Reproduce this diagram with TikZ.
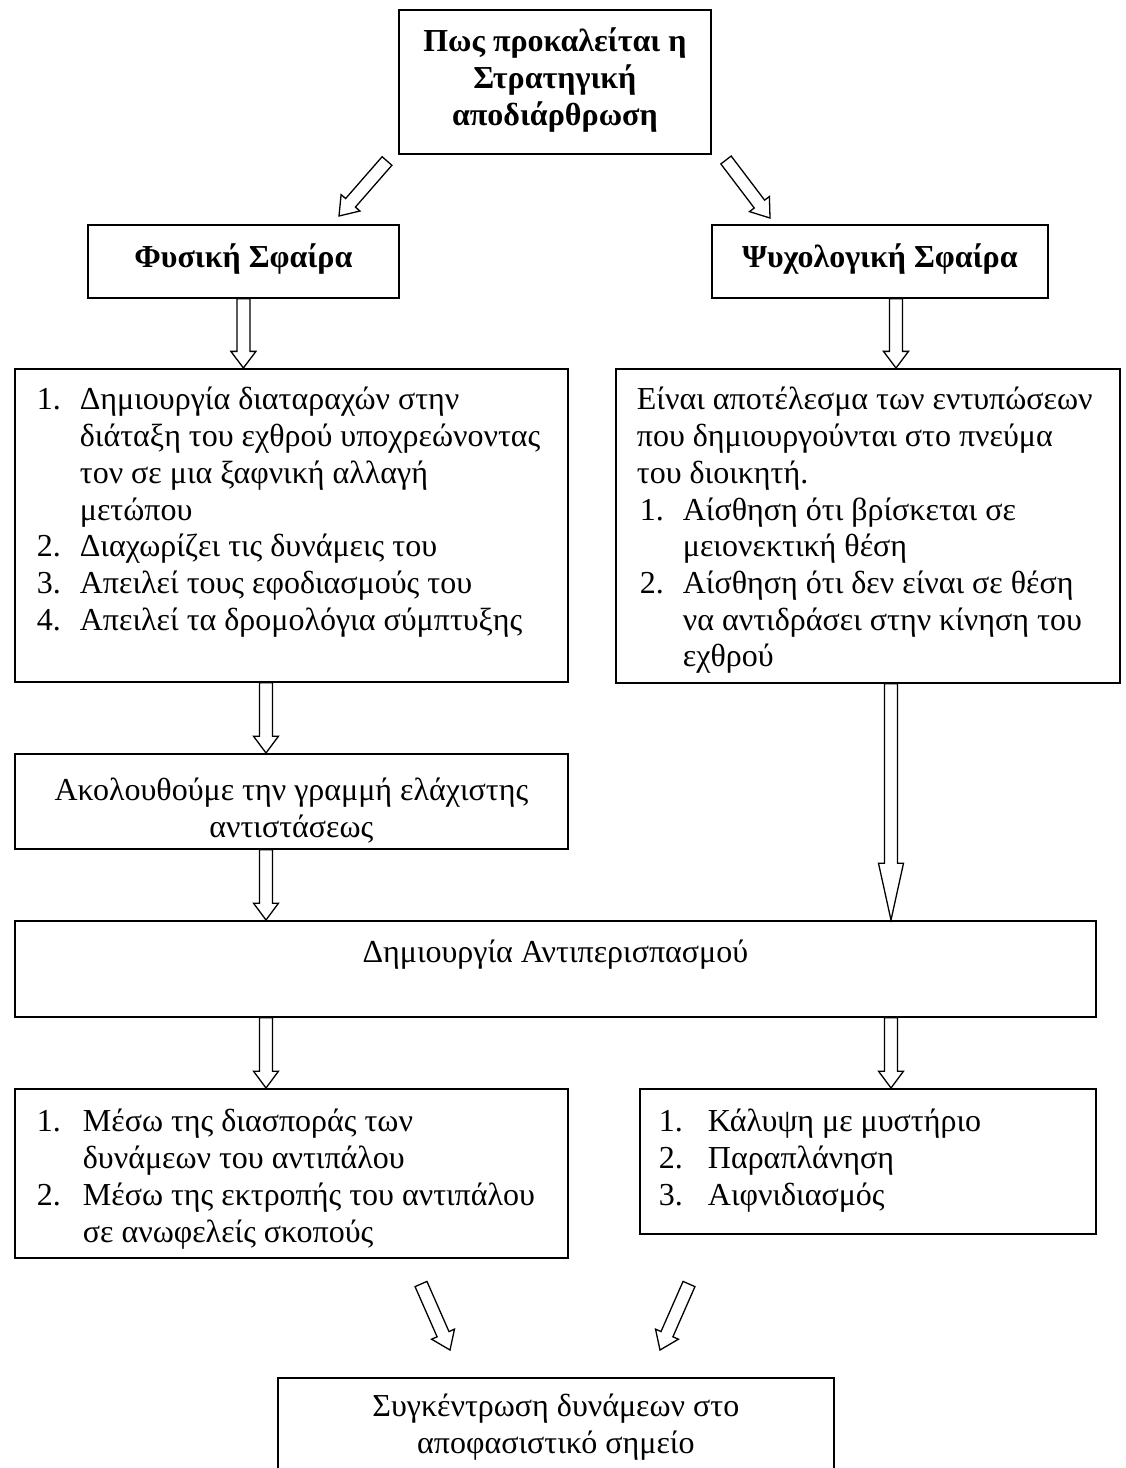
\documentclass[tikz,border=0pt]{standalone}
\usepackage{fontspec}
\setmainfont{Liberation Serif}
\usetikzlibrary{calc}

\tikzset{
  box/.style={draw=black, line width=1.8pt, fill=white, inner sep=0pt, anchor=north west},
  hollowarrow/.style={draw=black, line width=1.3pt, fill=white, line join=miter},
}

% hollow block arrow from #1 to #2 (head = 24% of the length)
\newcommand{\blockarrow}[2]{%
  \coordinate (neck) at ($(#2)!0.24!(#1)$);
  \draw[hollowarrow]
    ($(#1)!6.5pt!90:(#2)$) -- ($(neck)!6.5pt!90:(#2)$) -- ($(neck)!12.5pt!90:(#2)$) -- (#2)
    -- ($(neck)!12.5pt!-90:(#2)$) -- ($(neck)!6.5pt!-90:(#2)$) -- ($(#1)!6.5pt!-90:(#2)$) -- cycle;
}

% numbered item with hanging indent (lines separated by \newline)
\newcommand{\itm}[3][43pt]{\par\hangindent=#1\hangafter=1\noindent\makebox[#1][l]{#2}#3\par}
\newcommand{\txt}{\fontsize{32}{36.7}\selectfont}

\begin{document}
\begin{tikzpicture}[x=1pt,y=-1pt]
\useasboundingbox (0,0) rectangle (1126,1468);
\clip (0,0) rectangle (1126,1468);
\fill[white] (0,0) rectangle (1126,1468);

% boxes
\node[box] (top) at (398,9) {\begin{minipage}[t][144pt][t]{312pt}\centering\txt\bfseries
\rule{0pt}{42pt}Πως προκαλείται η\\Στρατηγική\\αποδιάρθρωση\end{minipage}};

\node[box] (phys) at (87,224) {\begin{minipage}[t][73pt][t]{311pt}\centering\txt\bfseries
\rule{0pt}{43pt}Φυσική Σφαίρα\end{minipage}};

\node[box] (psych) at (711,224) {\begin{minipage}[t][73pt][t]{336pt}\centering\txt\bfseries
\rule{0pt}{43pt}Ψυχολογική Σφαίρα\end{minipage}};

\node[box] (b1) at (14,368) {\begin{minipage}[t][313pt][t]{553pt}\leftskip=22pt\txt
\itm{1.}{\rule{0pt}{41pt}\mbox{Δημιουργία διαταραχών στην}\newline\mbox{διάταξη του εχθρού υποχρεώνοντας}\newline\mbox{τον σε μια ξαφνική αλλαγή}\newline\mbox{μετώπου}}
\itm{2.}{\mbox{Διαχωρίζει τις δυνάμεις του}}
\itm{3.}{\mbox{Απειλεί τους εφοδιασμούς του}}
\itm{4.}{\mbox{Απειλεί τα δρομολόγια σύμπτυξης}}
\end{minipage}};

\node[box] (b2) at (615,368) {\begin{minipage}[t][314pt][t]{504pt}\leftskip=21pt\txt
\noindent\rule{0pt}{41pt}\mbox{Είναι αποτέλεσμα των εντυπώσεων}\newline\mbox{που δημιουργούνται στο πνεύμα}\newline\mbox{του διοικητή.}\par
\leftskip=24pt
\itm{1.}{\mbox{Αίσθηση ότι βρίσκεται σε}\newline\mbox{μειονεκτική θέση}}
\itm{2.}{\mbox{Αίσθηση ότι δεν είναι σε θέση}\newline\mbox{να αντιδράσει στην κίνηση του}\newline\mbox{εχθρού}}
\end{minipage}};

\node[box] (b3) at (14,753) {\begin{minipage}[t][95pt][t]{553pt}\centering\txt
\rule{0pt}{47pt}Ακολουθούμε την γραμμή ελάχιστης\\αντιστάσεως\end{minipage}};

\node[box] (b4) at (14,920) {\begin{minipage}[t][96pt][t]{1081pt}\centering\txt
\rule{0pt}{42pt}Δημιουργία Αντιπερισπασμού\end{minipage}};

\node[box] (b5) at (14,1088) {\begin{minipage}[t][169pt][t]{553pt}\leftskip=22pt\txt
\itm[46pt]{1.}{\rule{0pt}{43pt}\mbox{Μέσω της διασποράς των}\newline\mbox{δυνάμεων του αντιπάλου}}
\itm[46pt]{2.}{\mbox{Μέσω της εκτροπής του αντιπάλου}\newline\mbox{σε ανωφελείς σκοπούς}}
\end{minipage}};

\node[box] (b6) at (639,1088) {\begin{minipage}[t][145pt][t]{456pt}\leftskip=19pt\txt
\itm[49pt]{1.}{\rule{0pt}{43pt}\mbox{Κάλυψη με μυστήριο}}
\itm[49pt]{2.}{\mbox{Παραπλάνηση}}
\itm[49pt]{3.}{\mbox{Αιφνιδιασμός}}
\end{minipage}};

\node[box] (b7) at (277,1377) {\begin{minipage}[t][130pt][t]{556pt}\centering\txt
\rule{0pt}{39pt}Συγκέντρωση δυνάμεων στο\\αποφασιστικό σημείο\end{minipage}};

% arrow columns and free ends
\coordinate (colL) at (266,0);
\coordinate (colR) at (891,0);
\coordinate (colP) at (896,0);
\coordinate (tlTail) at (387,161);
\coordinate (tlTip) at (339,216);
\coordinate (trTail) at (726,160);
\coordinate (trTip) at (770,218);
\coordinate (blTail) at (421,1284);
\coordinate (blTip) at (450,1350);
\coordinate (brTail) at (689,1284);
\coordinate (brTip) at (660,1350);

% arrows
\blockarrow{tlTail}{tlTip}
\blockarrow{trTail}{trTip}
\blockarrow{phys.south}{b1.north -| phys.south}
\blockarrow{psych.south -| colP}{b2.north -| colP}
\blockarrow{b1.south -| colL}{b3.north -| colL}
\blockarrow{b3.south -| colL}{b4.north -| colL}
\blockarrow{b2.south -| colR}{b4.north -| colR}
\blockarrow{b4.south -| colL}{b5.north -| colL}
\blockarrow{b4.south -| colR}{b6.north -| colR}
\blockarrow{blTail}{blTip}
\blockarrow{brTail}{brTip}
\end{tikzpicture}
\end{document}
